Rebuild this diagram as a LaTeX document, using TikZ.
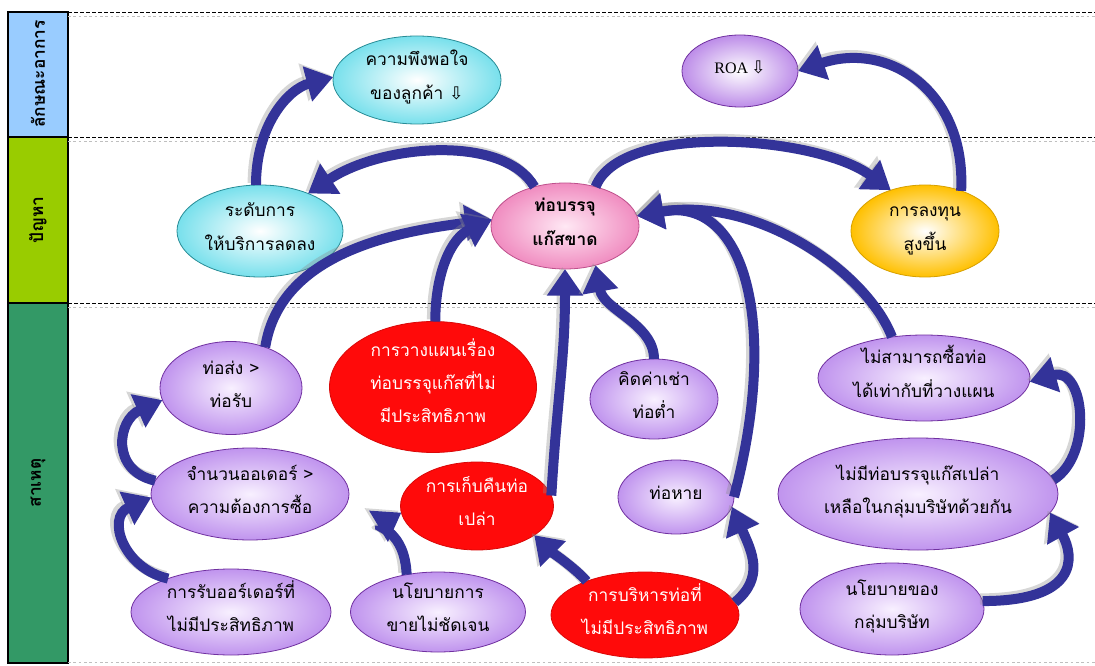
\documentclass[tikz,border=0pt]{standalone}
\usepackage{fontspec}
\newfontfamily\thaifont[Script=Thai]{Loma}
\newfontfamily\symfont{DejaVu Sans}
\newfontfamily\serifrm{Liberation Serif}
\usetikzlibrary{shapes.geometric,arrows.meta}

\definecolor{flowblue}{RGB}{51,51,153}
\definecolor{barblue}{RGB}{153,204,255}
\definecolor{bargreen}{RGB}{153,204,0}
\definecolor{bardeep}{RGB}{51,153,102}
\definecolor{lav}{RGB}{192,148,238}
\definecolor{lavin}{RGB}{248,240,255}
\definecolor{lavedge}{RGB}{112,48,160}
\definecolor{aqua}{RGB}{120,224,236}
\definecolor{aquaedge}{RGB}{40,140,150}
\definecolor{rose}{RGB}{240,140,192}
\definecolor{rosein}{RGB}{255,232,244}
\definecolor{roseedge}{RGB}{190,80,140}
\definecolor{amber}{RGB}{255,192,0}
\definecolor{amberedge}{RGB}{215,160,0}
\definecolor{alarm}{RGB}{255,10,10}

% two-line (or more) centred text that does not widen the ellipse
\newcommand{\tlines}[1]{\smash{\makebox[0pt]{\begin{tabular}{@{}c@{}}#1\end{tabular}}}}
\newcommand{\down}{{\symfont\char"21E9}}
% thick connector with a soft grey shadow
\newcommand{\flowarrow}[1]{\draw[flowshade] #1; \draw[flow] #1;}

\tikzset{
  sz/.style 2 args={minimum width=#1*0.75pt, minimum height=#2*0.75pt},
  bubble/.style={ellipse, inner sep=0pt, outer sep=0pt, line width=0.6pt,
    font=\thaifont\fontsize{13}{25}\selectfont},
  lavbubble/.style={bubble, draw=lavedge, inner color=lavin, outer color=lav},
  aquabubble/.style={bubble, draw=aquaedge, inner color=white, outer color=aqua},
  rosebubble/.style={bubble, draw=roseedge, inner color=rosein, outer color=rose,
    font=\thaifont\bfseries\fontsize{13}{25}\selectfont},
  amberbubble/.style={bubble, draw=amberedge, inner color=white, outer color=amber},
  redbubble/.style={bubble, draw=alarm!85!black, fill=alarm, text=white},
  flow/.style={draw=flowblue, line width=7.5pt, -{Triangle[width=26pt,length=20pt]}},
  flowshade/.style={draw=black!45, opacity=0.35, line width=8.5pt,
    -{Triangle[width=28pt,length=21pt]}, transform canvas={shift={(-2pt,1.5pt)}}},
  sepline/.style={black, line width=0.6pt, dash pattern=on 3pt off 1.5pt},
  sepfaint/.style={black!25, line width=0.5pt, dash pattern=on 2pt off 2pt},
  barcell/.style={draw=black, line width=0.8pt},
  bartext/.style={rotate=90, font=\thaifont\bfseries\fontsize{13}{15}\selectfont},
}

\begin{document}
\begin{tikzpicture}[x=0.75pt, y=-0.75pt]
\useasboundingbox (0,0) rectangle (1095,666);
\fill[white] (0,0) rectangle (1095,666);

% category bar on the left
\filldraw[barcell, fill=barblue] (8,12) rectangle (68,137);
\filldraw[barcell, fill=bargreen] (8,137) rectangle (68,303);
\filldraw[barcell, fill=bardeep] (8,303) rectangle (68,663);
\node[bartext] (lblsym) at (38,74) {ลักษณะอาการ};
\node[bartext] (lblprob) at (38,220) {ปัญหา};
\node[bartext] (lblcause) at (38,483) {สาเหตุ};

% row separators
\draw[sepline] (68,12) -- (1095,12);
\draw[sepline] (68,137) -- (1095,137);
\draw[sepline] (68,303) -- (1095,303);
\draw[sepfaint] (68,16) -- (1095,16);
\draw[sepfaint] (68,141) -- (1095,141);
\draw[sepfaint] (68,307) -- (1095,307);
\draw[sepfaint] (68,662) -- (1095,662);

% symptoms
\node[aquabubble, sz={168}{88}] (sat) at (417,80) {\tlines{ความพึงพอใจ\\ของลูกค้า \down}};
\node[lavbubble, sz={116}{72}, inner color=white, outer color=lav!95!violet] (roa) at (740,71)
  {\tlines{{\serifrm\fontsize{12}{14}\selectfont ROA}\,\down}};

% problems
\node[aquabubble, sz={166}{92}] (svc) at (260,231) {\tlines{ระดับการ\\ให้บริการลดลง}};
\node[rosebubble, sz={148}{86}] (ctr) at (565,226) {\tlines{ท่อบรรจุ\\แก๊สขาด}};
\node[amberbubble, sz={148}{92}] (inv) at (925,231) {\tlines{การลงทุน\\สูงขึ้น}};

% causes
\node[lavbubble, sz={142}{93}] (tos) at (231,388) {\tlines{ท่อส่ง >\\ท่อรับ}};
\node[redbubble, sz={207}{131}] (plan) at (433,387) {\tlines{การวางแผนเรื่อง\\ท่อบรรจุแก๊สที่ไม่\\มีประสิทธิภาพ}};
\node[lavbubble, sz={198}{92}] (ord) at (250,494) {\tlines{จำนวนออเดอร์ >\\ความต้องการซื้อ}};
\node[redbubble, sz={153}{88}] (ret) at (477,506) {\tlines{การเก็บคืนท่อ\\เปล่า}};
\node[lavbubble, sz={200}{86}] (rcv) at (231,612) {\tlines{การรับออร์เดอร์ที่\\ไม่มีประสิทธิภาพ}};
\node[lavbubble, sz={175}{80}] (sales) at (438,612) {\tlines{นโยบายการ\\ขายไม่ชัดเจน}};
\node[redbubble, sz={188}{86}] (mgmt) at (645,615) {\tlines{การบริหารท่อที่\\ไม่มีประสิทธิภาพ}};
\node[lavbubble, sz={128}{80}] (rent) at (654,399) {\tlines{คิดค่าเช่า\\ท่อต่ำ}};
\node[lavbubble, sz={116}{74}] (loss) at (676,497) {\tlines{ท่อหาย}};
\node[lavbubble, sz={212}{86}] (buy) at (924,378) {\tlines{ไม่สามารถซื้อท่อ\\ได้เท่ากับที่วางแผน}};
\node[lavbubble, sz={280}{112}] (empty) at (918,494) {\tlines{ไม่มีท่อบรรจุแก๊สเปล่า\\เหลือในกลุ่มบริษัทด้วยกัน}};
\node[lavbubble, sz={184}{92}] (pol) at (892,609) {\tlines{นโยบายของ\\กลุ่มบริษัท}};

% cause-and-effect connectors
\flowarrow{(svc.95) .. controls +(0,-60) and +(-45,12) .. (sat.178)}
\flowarrow{(ctr.128) .. controls +(-30,-52) and +(75,-50) .. (svc.38)}
\flowarrow{(ctr.52) .. controls +(25,-65) and +(-75,-55) .. (inv.130)}
\flowarrow{(inv.48) .. controls +(5,-100) and +(90,-30) .. (roa.east)}
\flowarrow{(tos.50) .. controls +(15,-95) and +(-95,12) .. (ctr.175)}
\flowarrow{(plan.88) .. controls +(0,-50) and +(-40,18) .. (ctr.175)}
\flowarrow{(ret.8) .. controls +(6,-100) and +(0,90) .. (ctr.south)}
\flowarrow{(rent.north) .. controls +(0,-35) and +(8,45) .. (ctr.-52)}
\flowarrow{(loss.east) .. controls +(45,-170) and +(110,-20) .. (ctr.8)}
\flowarrow{(buy.128) .. controls +(-25,-65) and +(120,-20) .. (ctr.8)}
\flowarrow{(mgmt.8) .. controls +(30,-25) and +(20,45) .. (loss.-10)}
\flowarrow{(mgmt.150) .. controls +(-10,-12) and +(14,14) .. (ret.-27)}
\flowarrow{(sales.130) .. controls +(-2,-45) and +(-25,15) .. (ret.185)}
\flowarrow{(rcv.152) .. controls +(-45,-10) and +(-45,20) .. (ord.182)}
\flowarrow{(ord.172) .. controls +(-45,-10) and +(-45,20) .. (tos.190)}
\flowarrow{(pol.5) .. controls +(95,0) and +(25,45) .. (empty.-8)}
\flowarrow{(empty.6) .. controls +(40,-25) and +(55,-15) .. (buy.-2)}
\end{tikzpicture}
\end{document}
